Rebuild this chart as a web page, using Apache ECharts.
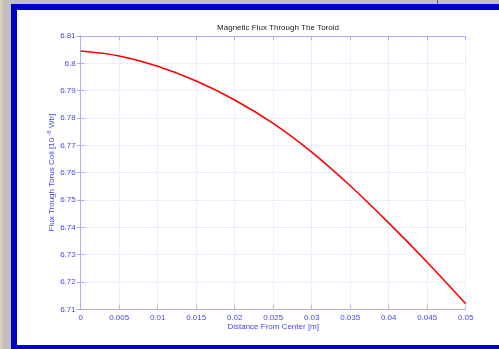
<!DOCTYPE html>
<html>
<head>
<meta charset="utf-8">
<script src="https://cdn.jsdelivr.net/npm/echarts@6/dist/echarts.min.js"></script>
<style>html,body{margin:0;padding:0;background:#c0c0c0;}#c{width:499px;height:349px;}</style>
</head>
<body>
<div id="c"></div>
<script>
var distances = [0, 0.005, 0.01, 0.015, 0.02, 0.025, 0.03, 0.035, 0.04, 0.045, 0.05];
var flux = [6.8045, 6.8027, 6.7989, 6.7935, 6.7866, 6.7780, 6.7675, 6.7552, 6.7416, 6.7272, 6.7120];
var xTicks = {min: 0, max: 0.05, interval: 0.005};
var yTicks = {min: 6.71, max: 6.81, interval: 0.01};
var titleText = 'Magnetic Flux Through The Toroid';
var xName = 'Distance From Center [m]';
var yName = 'Flux Trough Torus Coil [10 {sup|-8} Wb]';

var chart = echarts.init(document.getElementById('c'), null, {renderer: 'canvas'});
var axisBlue = '#aeaefc';
var labelBlue = '#4646ee';
var gridCol = '#dcdcfc';
var fmt = function (v) { return String(parseFloat(v.toFixed(4))); };
function axisCommon(showLabel) {
  return {
    axisLine: {show: true, lineStyle: {color: axisBlue, width: 1}},
    axisTick: {show: true, inside: true, length: 4, lineStyle: {color: axisBlue}},
    axisLabel: {show: showLabel, color: labelBlue, fontSize: 8, fontFamily: 'Liberation Sans, Arial', formatter: fmt},
    splitLine: {show: showLabel, lineStyle: {color: gridCol, type: [1, 1], width: 1}}
  };
}
var xBottom = Object.assign({type: 'value', position: 'bottom', min: xTicks.min, max: xTicks.max, interval: xTicks.interval,
  name: xName, nameLocation: 'middle', nameGap: 13, nameMoveOverlap: false,
  nameTextStyle: {color: labelBlue, fontSize: 8, fontFamily: 'Liberation Sans, Arial'}}, axisCommon(true));
xBottom.axisLabel.margin = 4;
var xTop = Object.assign({type: 'value', position: 'top', min: xTicks.min, max: xTicks.max, interval: xTicks.interval}, axisCommon(false));
var yLeft = Object.assign({type: 'value', position: 'left', min: yTicks.min, max: yTicks.max, interval: yTicks.interval,
  name: yName, nameLocation: 'middle', nameGap: 24, nameRotate: 90, nameMoveOverlap: false,
  nameTextStyle: {color: labelBlue, fontSize: 8, fontFamily: 'Liberation Sans, Arial',
    rich: {sup: {fontSize: 6, color: labelBlue, fontFamily: 'Liberation Sans, Arial', verticalAlign: 'top', padding: [0, 0, 4, 0]}}}}, axisCommon(true));
yLeft.axisLabel.margin = 5;
var yRight = Object.assign({type: 'value', position: 'right', min: yTicks.min, max: yTicks.max, interval: yTicks.interval}, axisCommon(false));

var option = {
  animation: false,
  backgroundColor: '#c0c0c0',
  graphic: [
    {type: 'rect', z: -10, shape: {x: 0, y: 0, width: 3, height: 349}, style: {fill: '#d6cdbb'}},
    {type: 'rect', z: -10, shape: {x: 11, y: 4, width: 488, height: 345}, style: {fill: '#0000c8'}},
    {type: 'rect', z: -9, shape: {x: 17, y: 10, width: 482, height: 335}, style: {fill: '#ffffff'}},
    {type: 'rect', z: -9, shape: {x: 437, y: 0, width: 1, height: 4}, style: {fill: '#606060'}}
  ],
  title: {text: titleText, left: 273, top: 19, textAlign: 'center',
    textStyle: {fontSize: 8, fontWeight: 'normal', color: '#222222', fontFamily: 'Liberation Sans, Arial'}},
  grid: {left: 80.7, right: 33.3, top: 36, bottom: 39.7, containLabel: false},
  xAxis: [xBottom, xTop],
  yAxis: [yLeft, yRight],
  series: [{
    type: 'line', xAxisIndex: 0, yAxisIndex: 0,
    data: distances.map(function (d, i) { return [d, flux[i]]; }),
    smooth: 0.35, showSymbol: false,
    lineStyle: {color: '#ff0000', width: 1.6}
  }]
};
chart.setOption(option);
</script>
</body>
</html>
